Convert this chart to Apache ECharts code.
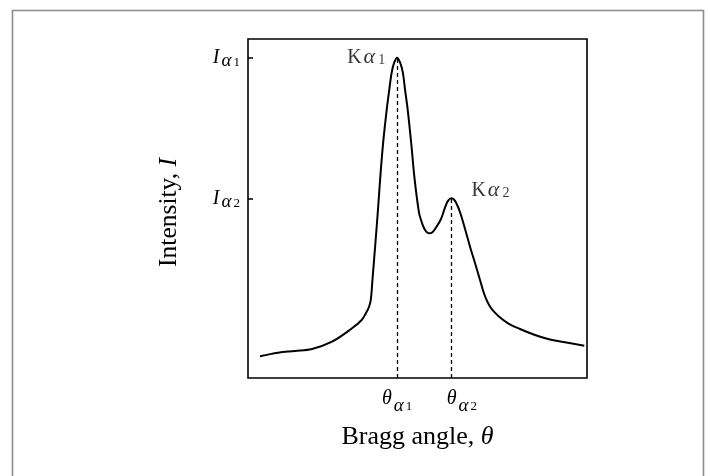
<!DOCTYPE html>
<html>
<head>
<meta charset="utf-8">
<script src="https://cdn.jsdelivr.net/npm/echarts@6/dist/echarts.min.js"></script>
<style>html,body{margin:0;padding:0;background:#fff;}#c{width:710px;height:476px;}</style>
</head>
<body>
<div id="c"></div>
<script>
// Bragg angle (x, 0..100 arbitrary units) and intensity (y, 0..100 arbitrary units)
const thetaX = [3.54, 8.85, 13.86, 18.88, 24.78, 30.68, 33.54, 34.81, 35.69, 36.22, 36.73, 37.52, 38.28, 38.99, 39.87, 40.99, 41.64, 42.38, 43.12, 44.0, 44.88, 45.68, 46.36, 47.04, 48.13, 49.13, 50.44, 51.09, 51.77, 52.51, 53.39, 54.42, 55.46, 56.93, 58.11, 58.99, 60.0, 60.88, 61.77, 62.65, 64.07, 65.49, 66.96, 68.44, 69.62, 70.80, 71.98, 73.84, 76.70, 80.24, 84.66, 88.50, 92.63, 99.20];
const intensity = [6.40, 7.46, 7.96, 8.55, 10.71, 14.66, 17.11, 19.17, 20.94, 23.01, 29.17, 39.00, 48.79, 58.82, 69.44, 79.76, 84.78, 90.09, 93.04, 94.5, 93.04, 90.09, 84.78, 79.76, 69.44, 58.82, 48.79, 46.46, 44.54, 43.27, 42.68, 43.01, 44.40, 46.90, 50.29, 52.27, 53.0, 52.51, 50.88, 48.58, 43.81, 38.73, 33.92, 28.91, 24.93, 22.12, 20.21, 18.29, 16.14, 14.45, 12.68, 11.50, 10.71, 9.53];
// peaks
const peakTheta = [44.0, 60.0];
const peakIntensity = [94.5, 53.0];
const peakNames = ['Kα1', 'Kα2'];
const yTickLabels = ['Iα1', 'Iα2'];
const xTickLabels = ['θα1', 'θα2'];

const FONT = 'Liberation Serif';
const curve = thetaX.map((x, i) => [x, intensity[i]]);

function subLabel(str, main, extra) {
  return '{' + main + (extra || '') + '|' + str[0] + '}{' + main + 'a|' + str[1] + '}{' + main + 's|' + str[2] + '}';
}

const kRich = {
  k: {fontFamily: FONT, fontSize: 20, color: '#000'},
  ka: {fontFamily: FONT, fontStyle: 'italic', fontSize: 22, color: '#000', padding: [0, 3, 0, 2]},
  ks: {fontFamily: FONT, fontSize: 14, color: '#000', padding: [5, 0, 0, 0]}
};

const chart = echarts.init(document.getElementById('c'), null, {renderer: 'canvas'});
chart.setOption({
  animation: false,
  backgroundColor: '#fff',
  graphic: [{
    type: 'rect', left: 10, top: 8, silent: true,
    shape: {width: 691, height: 490},
    style: {fill: 'none', stroke: '#8c8c8c', lineWidth: 1.6}
  }],
  grid: {left: 248, right: 123, top: 39, bottom: 98, show: true, borderColor: '#000', borderWidth: 1.6},
  xAxis: {
    type: 'value', min: 0, max: 100,
    axisLine: {show: false}, splitLine: {show: false}, axisTick: {show: false},
    axisLabel: {
      customValues: peakTheta, margin: 4,
      formatter: function (v) {
        const i = peakTheta.indexOf(v);
        return i === 0 ? subLabel(xTickLabels[0], 't') : subLabel(xTickLabels[1], 't', 'p');
      },
      rich: {
        t: {fontFamily: FONT, fontStyle: 'italic', fontSize: 20, color: '#000'},
        tp: {fontFamily: FONT, fontStyle: 'italic', fontSize: 20, color: '#000', padding: [0, 0, 0, 21]},
        ta: {fontFamily: FONT, fontStyle: 'italic', fontSize: 19, color: '#000', padding: [14, 1, 0, 2]},
        ts: {fontFamily: FONT, fontSize: 13, color: '#000', padding: [17, 0, 0, 1]}
      }
    },
    name: '{r|Bragg angle, }{t|θ}', nameLocation: 'middle', nameGap: 46,
    nameTextStyle: {
      rich: {
        r: {fontFamily: FONT, fontSize: 26, color: '#000'},
        t: {fontFamily: FONT, fontStyle: 'italic', fontSize: 26, color: '#000'}
      }
    }
  },
  yAxis: {
    type: 'value', min: 0, max: 100,
    axisLine: {show: false}, splitLine: {show: false},
    axisTick: {show: true, customValues: peakIntensity, inside: true, length: 5, lineStyle: {color: '#000', width: 1.5}},
    axisLabel: {
      customValues: peakIntensity, margin: 8,
      formatter: function (v) {
        const i = peakIntensity.indexOf(v);
        return subLabel(yTickLabels[i], 'i');
      },
      rich: {
        i: {fontFamily: FONT, fontStyle: 'italic', fontSize: 20, color: '#000'},
        ia: {fontFamily: FONT, fontStyle: 'italic', fontSize: 19, color: '#000', padding: [7, 1, 0, 2]},
        is: {fontFamily: FONT, fontSize: 13, color: '#000', padding: [10, 0, 0, 1]}
      }
    },
    name: '{r|Intensity, }{i|I}', nameLocation: 'middle', nameGap: 66,
    nameTextStyle: {
      padding: [0, 8, 0, 0],
      rich: {
        r: {fontFamily: FONT, fontSize: 25.5, color: '#000'},
        i: {fontFamily: FONT, fontStyle: 'italic', fontSize: 25.5, color: '#000'}
      }
    }
  },
  series: [
    {
      type: 'line', data: curve, smooth: 0.35, showSymbol: false,
      lineStyle: {color: '#000', width: 2}, z: 3,
      markLine: {
        silent: true, symbol: 'none', label: {show: false},
        lineStyle: {color: '#000', width: 1.3, type: [4, 3]},
        data: peakTheta.map((t, i) => [{coord: [t, 0]}, {coord: [t, peakIntensity[i]]}])
      }
    },
    {
      type: 'scatter', symbolSize: 0, z: 4,
      data: peakTheta.map((t, i) => ({
        value: [t, peakIntensity[i]],
        label: i === 0
          ? {show: true, color: '#000', position: 'left', distance: 12, offset: [0, 0], formatter: subLabel(peakNames[0], 'k'), rich: kRich}
          : {show: true, color: '#000', position: 'right', distance: 20, offset: [0, -8], formatter: subLabel(peakNames[1], 'k'), rich: kRich}
      }))
    }
  ]
});
</script>
</body>
</html>
